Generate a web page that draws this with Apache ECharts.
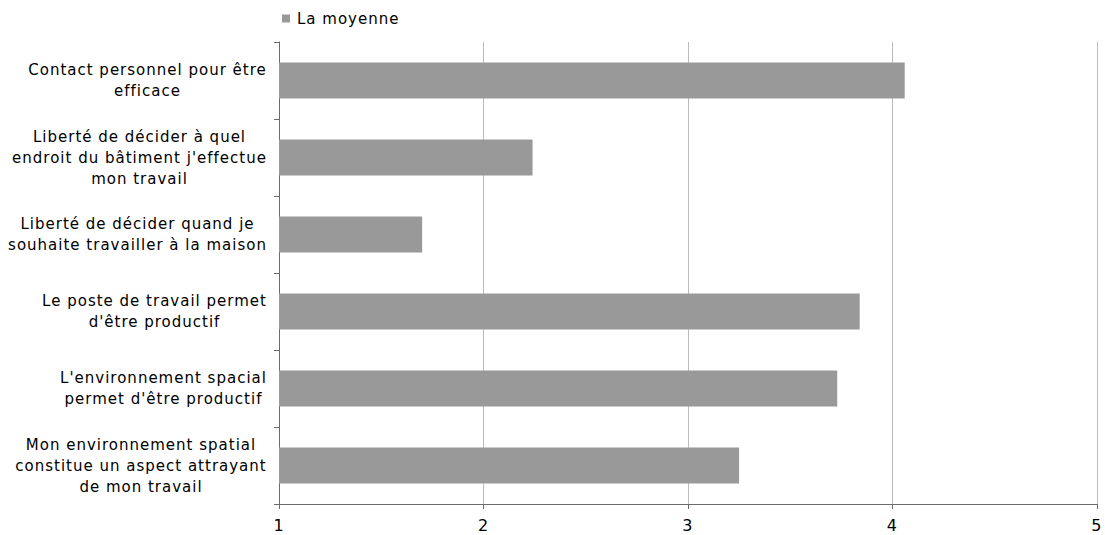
<!DOCTYPE html>
<html><head><meta charset="utf-8">
<script src="https://cdn.jsdelivr.net/npm/echarts@6/dist/echarts.min.js"></script>
<style>html,body{margin:0;padding:0;background:#fff}#c{width:1105px;height:535px}
#c svg text{letter-spacing:1px}</style>
</head><body><div id="c"></div>
<script>
const categories = [
  "Contact personnel pour être\nefficace",
  "Liberté de décider à quel\nendroit du bâtiment j'effectue\nmon travail",
  "Liberté de décider quand je\nsouhaite travailler à la maison",
  "Le poste de travail permet\nd'être productif",
  "L'environnement spacial\npermet d'être productif",
  "Mon environnement spatial\nconstitue un aspect attrayant\nde mon travail"
];
const seriesName = "La moyenne";
const values = [4.06, 2.24, 1.70, 3.84, 3.73, 3.25];
const xTicks = [1, 2, 3, 4, 5];

const FONT = 'DejaVu Sans';
const LABEL_SIZE = 15;
const SPACING = 1;
const mctx = document.createElement('canvas').getContext('2d');
mctx.font = LABEL_SIZE + 'px "' + FONT + '"';
function lineWidth(s) { return mctx.measureText(s).width + SPACING * s.length; }

const rich = {};
const idxOf = {};
categories.forEach((c, i) => {
  idxOf[c] = i;
  const w = Math.ceil(Math.max(...c.split('\n').map(lineWidth)));
  rich['r' + i] = {width: w, align: 'center', fontSize: LABEL_SIZE, lineHeight: 21,
    fontFamily: FONT, color: '#000'};
});

const chart = echarts.init(document.getElementById('c'), null, {renderer: 'svg'});
chart.setOption({
  animation: false,
  textStyle: {fontFamily: FONT},
  legend: {
    data: [seriesName], left: 277, top: 6, itemWidth: 8, itemHeight: 8, itemGap: 10,
    icon: 'rect',
    textStyle: {fontSize: LABEL_SIZE, color: '#000', fontFamily: FONT, padding: [0, 0, 0, 2]}
  },
  grid: {left: 279, right: 8, top: 42, bottom: 31, containLabel: false},
  xAxis: {
    type: 'value', min: xTicks[0], max: xTicks[xTicks.length-1], interval: 1,
    axisLine: {show: true, lineStyle: {color: '#6b6b6b', width: 1}},
    axisTick: {show: true, length: 5, lineStyle: {color: '#6b6b6b'}},
    axisLabel: {color: '#000', fontSize: 16, margin: 13, fontFamily: FONT},
    splitLine: {show: true, lineStyle: {color: '#bcbcbc', width: 1}}
  },
  yAxis: {
    type: 'category', data: categories, inverse: true,
    axisLine: {show: true, lineStyle: {color: '#6b6b6b', width: 1}},
    axisTick: {show: true, length: 5, alignWithLabel: false, lineStyle: {color: '#6b6b6b'}},
    axisLabel: {
      color: '#000', fontSize: LABEL_SIZE, lineHeight: 21, margin: 12, align: 'right',
      fontFamily: FONT, rich: rich,
      formatter: function (v) {
        const i = idxOf[v];
        return v.split('\n').map(l => '{r' + i + '|' + l + '}').join('\n');
      }
    }
  },
  series: [{
    name: seriesName, type: 'bar', data: values, barWidth: 36,
    itemStyle: {color: '#999999'}
  }]
});
</script></body></html>
